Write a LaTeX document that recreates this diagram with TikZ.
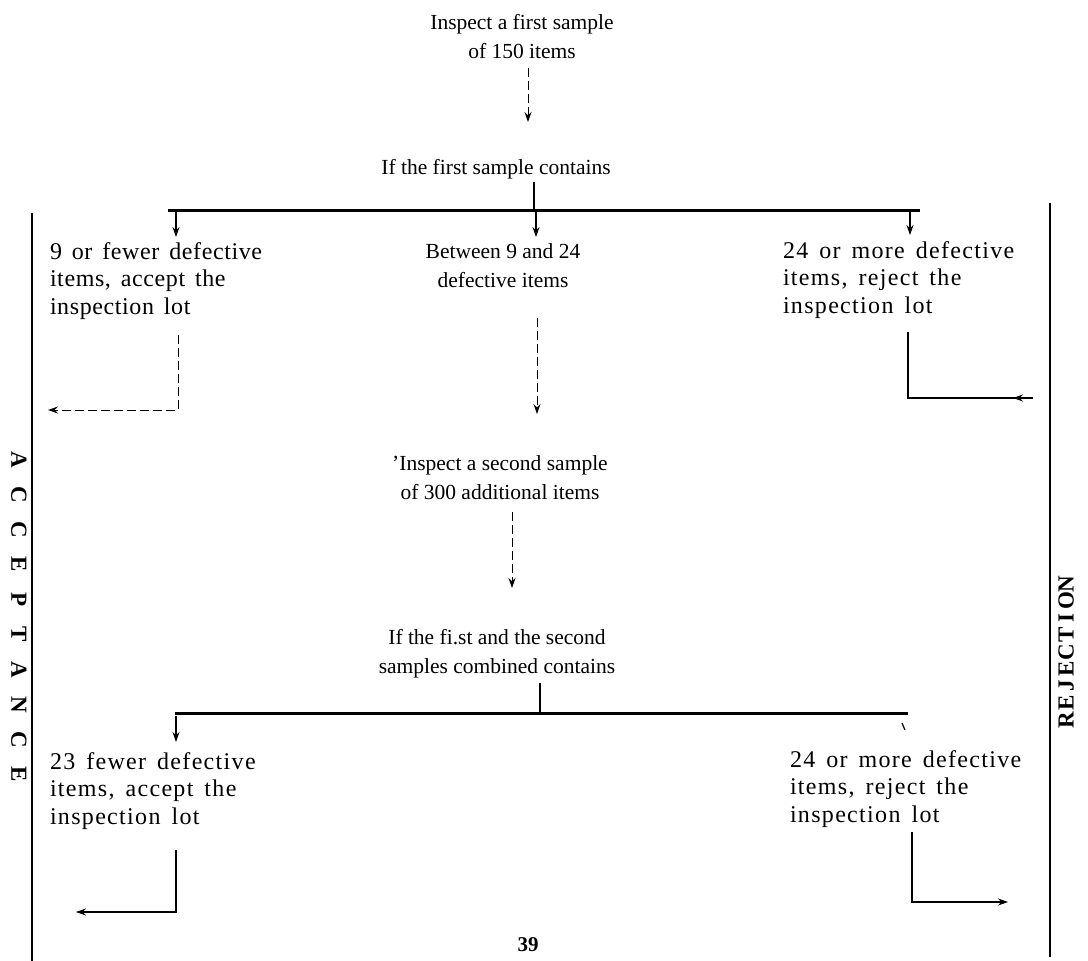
\documentclass[tikz,border=0pt]{standalone}
\usepackage{fontspec}
\setmainfont{Liberation Serif}
\newfontfamily\sidefont[WordSpace=1.5]{Liberation Serif}
\usetikzlibrary{arrows.meta}
\newlength{\ltrw}
\newcommand{\ltrbox}[1]{\makebox[\ltrw]{#1}}
\begin{document}
\begin{tikzpicture}[x=1pt,y=-1pt,
  txt/.style={font=\fontsize{21.5}{28.5}\selectfont, inner sep=0pt, outer sep=0pt},
  sidetxt/.style={inner sep=0pt, outer sep=0pt, align=left, anchor=base west,
    font=\sidefont\fontsize{24}{27.5}\selectfont\addfontfeature{LetterSpace=#1}},
  tip/.style={-{Stealth[length=10pt,width=7pt]}},
  conn/.style={line width=1.2pt},
  dconn/.style={line width=1pt, dash pattern=on 9pt off 4pt},
  bar/.style={line width=3pt},
  side/.style={line width=1.6pt},
  vlabel/.style={font=\fontsize{23}{23}\selectfont\bfseries, inner sep=0pt}]
\useasboundingbox (0,0) rectangle (1088,961);

% first stage
\node[txt, align=center, anchor=base] (s1) at (522,58) {Inspect a first sample\\of 150 items};
\node[txt, anchor=base] (c1) at (496,174) {If the first sample contains};
\coordinate (a1s) at (528,68); \coordinate (a1e) at (528,122);
\draw[dconn, tip] (a1s) -- (a1e);
\coordinate (t1s) at (534,182); \coordinate (t1e) at (534,210);
\draw[conn] (t1s) -- (t1e);
\coordinate (b1l) at (168,210); \coordinate (b1r) at (920,210);
\draw[bar] (b1l) -- (b1r);
\coordinate (d1a) at (176,212); \coordinate (d1b) at (176,237);
\coordinate (d2a) at (536,212); \coordinate (d2b) at (536,237);
\coordinate (d3a) at (910,212); \coordinate (d3b) at (910,235);
\draw[conn, tip] (d1a) -- (d1b);
\draw[conn, tip] (d2a) -- (d2b);
\draw[conn, tip] (d3a) -- (d3b);

\node[sidetxt=2.5] (l1) at (50,314) {9 or fewer defective\\items, accept the\\inspection lot};
\node[txt, align=center, anchor=base] (m1) at (503,287) {Between 9 and 24\\defective items};
\node[sidetxt=5.5] (r1) at (783,313) {24 or more defective\\items, reject the\\inspection lot};

\coordinate (l1a) at (178,335); \coordinate (l1b) at (48,410);
\draw[dconn, tip] (l1a) |- (l1b);
\coordinate (m1a) at (537,318); \coordinate (m1b) at (537,414);
\draw[dconn, tip] (m1a) -- (m1b);
\coordinate (r1a) at (908,332); \coordinate (r1b) at (1033,398); \coordinate (r1c) at (1013,398);
\draw[conn] (r1a) |- (r1b);
\draw[conn, tip] (r1b) -- (r1c);

% second stage
\node[txt, align=center, anchor=base] (s2) at (500,499) {'Inspect a second sample\\of 300 additional items};
\coordinate (a2s) at (512,512); \coordinate (a2e) at (512,588);
\draw[dconn, tip] (a2s) -- (a2e);
\node[txt, align=center, anchor=base] (c2) at (497,673) {If the fi.st and the second\\samples combined contains};
\coordinate (t2s) at (540,683); \coordinate (t2e) at (540,712);
\draw[conn] (t2s) -- (t2e);
\coordinate (b2l) at (175,713); \coordinate (b2r) at (908,713);
\draw[bar] (b2l) -- (b2r);
\coordinate (d4a) at (176,716); \coordinate (d4b) at (176,742);
\draw[conn, tip] (d4a) -- (d4b);
\coordinate (mk1) at (902,723); \coordinate (mk2) at (905,730);
\draw[conn] (mk1) -- (mk2);

\node[sidetxt=5.5] (l2) at (50,824) {23 fewer defective\\items, accept the\\inspection lot};
\node[sidetxt=5.5] (r2) at (790,822) {24 or more defective\\items, reject the\\inspection lot};

\coordinate (l2a) at (176,850); \coordinate (l2b) at (76,912);
\draw[conn, tip] (l2a) |- (l2b);
\coordinate (r2a) at (912,832); \coordinate (r2b) at (1008,902);
\draw[conn, tip] (r2a) |- (r2b);

\node[txt, anchor=base, font=\fontsize{21}{24}\selectfont\bfseries] (pg) at (528,951) {39};

% side rails
\coordinate (sl1) at (32,213); \coordinate (sl2) at (32,961);
\coordinate (sr1) at (1050,203); \coordinate (sr2) at (1050,957);
\draw[side] (sl1) -- (sl2);
\draw[side] (sr1) -- (sr2);
\node[vlabel, rotate=-90] (acc) at (19,617) {\setlength{\ltrw}{35pt}\ltrbox{A}\ltrbox{C}\ltrbox{C}\ltrbox{E}\ltrbox{P}\ltrbox{T}\ltrbox{A}\ltrbox{N}\ltrbox{C}\ltrbox{E}};
\node[vlabel, rotate=90] (rej) at (1066,652) {\setlength{\ltrw}{17pt}\ltrbox{R}\ltrbox{E}\ltrbox{J}\ltrbox{E}\ltrbox{C}\ltrbox{T}\ltrbox{I}\ltrbox{O}\ltrbox{N}};
\end{tikzpicture}
\end{document}
